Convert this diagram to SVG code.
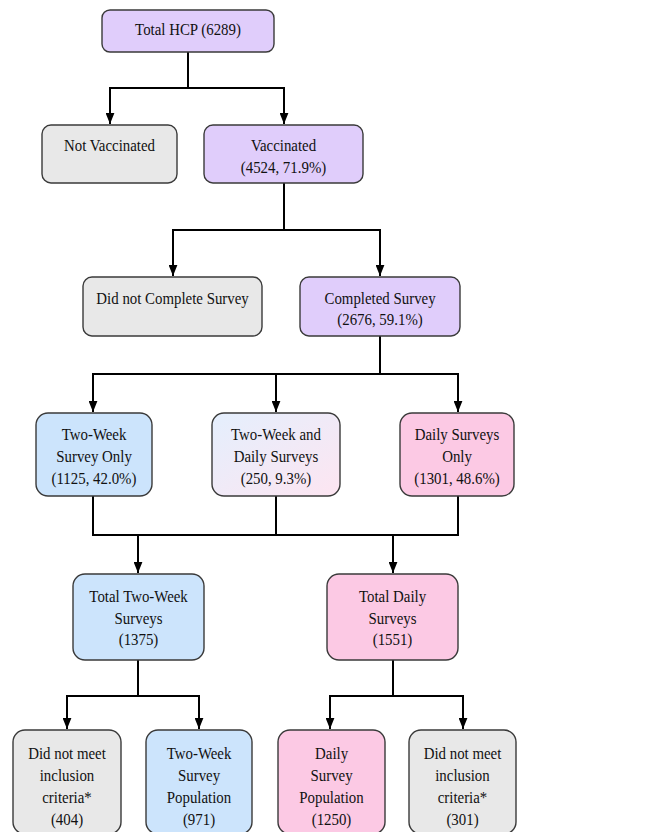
<svg xmlns="http://www.w3.org/2000/svg" width="664" height="832" viewBox="0 0 664 832">
<style>
.box{stroke:#3a3a3a;stroke-width:1.4}
.purple{fill:#e0cdfb}
.gray{fill:#e8e8e8}
.blue{fill:#cce4fc}
.pink{fill:#fcc9e4}
.mix{fill:url(#mixGrad)}
text{font-family:"Liberation Serif","Times New Roman",serif;font-size:17.5px;fill:#111;text-anchor:middle;transform-box:fill-box;transform-origin:center;transform:scaleX(0.85)}
.conn path{fill:none;stroke:#000;stroke-width:2}
</style>
<defs>
<linearGradient id="mixGrad" x1="0" y1="0" x2="1" y2="1">
<stop offset="0" stop-color="#e4effd"/>
<stop offset="1" stop-color="#fde5f1"/>
</linearGradient>
<marker id="arr" viewBox="0 0 10 8" refX="10" refY="4" markerWidth="11" markerHeight="9" markerUnits="userSpaceOnUse" orient="auto">
<path d="M0,0 L10,4 L0,8 z" fill="#000"/>
</marker>
</defs>
<rect width="664" height="832" fill="#fff"/>
<g class="conn">
<path d="M188,52 V88 H110 V124" marker-end="url(#arr)"/>
<path d="M188,88 H284 V124" marker-end="url(#arr)"/>
<path d="M284,183 V230 H173 V276" marker-end="url(#arr)"/>
<path d="M284,230 H380 V276" marker-end="url(#arr)"/>
<path d="M380,336 V374 H93 V412" marker-end="url(#arr)"/>
<path d="M276,374 V412" marker-end="url(#arr)"/>
<path d="M380,374 H458 V412" marker-end="url(#arr)"/>
<path d="M93,496 V535 H458 V496"/>
<path d="M276,496 V535"/>
<path d="M138,535 V573" marker-end="url(#arr)"/>
<path d="M393,535 V573" marker-end="url(#arr)"/>
<path d="M138,660 V696 H67 V729" marker-end="url(#arr)"/>
<path d="M138,696 H199 V729" marker-end="url(#arr)"/>
<path d="M393,660 V696 H330 V729" marker-end="url(#arr)"/>
<path d="M393,696 H463 V729" marker-end="url(#arr)"/>
</g>
<g id="total-hcp"><rect class="box purple" x="102" y="10" width="172" height="42" rx="8"/><text x="188" y="35">Total HCP (6289)</text></g>
<g id="not-vaccinated"><rect class="box gray" x="42" y="125" width="135" height="58" rx="9"/><text x="109.5" y="151">Not Vaccinated</text></g>
<g id="vaccinated"><rect class="box purple" x="204" y="125" width="159" height="58" rx="9"/><text x="283.5" y="151">Vaccinated</text><text x="283.5" y="173">(4524, 71.9%)</text></g>
<g id="did-not-complete"><rect class="box gray" x="83" y="277" width="179" height="59" rx="9"/><text x="172.5" y="304">Did not Complete Survey</text></g>
<g id="completed"><rect class="box purple" x="300" y="277" width="160" height="59" rx="9"/><text x="380" y="304">Completed Survey</text><text x="380" y="325">(2676, 59.1%)</text></g>
<g id="two-week-only"><rect class="box blue" x="36" y="413" width="116" height="83" rx="12"/><text x="94" y="440">Two-Week</text><text x="94" y="462">Survey Only</text><text x="94" y="484">(1125, 42.0%)</text></g>
<g id="both"><rect class="box mix" x="212" y="413" width="128" height="83" rx="12"/><text x="276" y="440">Two-Week and</text><text x="276" y="462">Daily Surveys</text><text x="276" y="484">(250, 9.3%)</text></g>
<g id="daily-only"><rect class="box pink" x="400" y="413" width="114" height="83" rx="12"/><text x="457" y="440">Daily Surveys</text><text x="457" y="462">Only</text><text x="457" y="484">(1301, 48.6%)</text></g>
<g id="total-two-week"><rect class="box blue" x="73" y="574" width="131" height="86" rx="12"/><text x="138.5" y="602">Total Two-Week</text><text x="138.5" y="624">Surveys</text><text x="138.5" y="645">(1375)</text></g>
<g id="total-daily"><rect class="box pink" x="327" y="574" width="131" height="86" rx="12"/><text x="392.5" y="602">Total Daily</text><text x="392.5" y="624">Surveys</text><text x="392.5" y="645">(1551)</text></g>
<g id="excluded-two-week"><rect class="box gray" x="13" y="730" width="108" height="104" rx="12"/><text x="67" y="759">Did not meet</text><text x="67" y="781">inclusion</text><text x="67" y="803">criteria*</text><text x="67" y="825">(404)</text></g>
<g id="two-week-pop"><rect class="box blue" x="146" y="730" width="106" height="104" rx="12"/><text x="199" y="759">Two-Week</text><text x="199" y="781">Survey</text><text x="199" y="803">Population</text><text x="199" y="825">(971)</text></g>
<g id="daily-pop"><rect class="box pink" x="278" y="730" width="107" height="104" rx="12"/><text x="331.5" y="759">Daily</text><text x="331.5" y="781">Survey</text><text x="331.5" y="803">Population</text><text x="331.5" y="825">(1250)</text></g>
<g id="excluded-daily"><rect class="box gray" x="409" y="730" width="107" height="104" rx="12"/><text x="462.5" y="759">Did not meet</text><text x="462.5" y="781">inclusion</text><text x="462.5" y="803">criteria*</text><text x="462.5" y="825">(301)</text></g>
</svg>
